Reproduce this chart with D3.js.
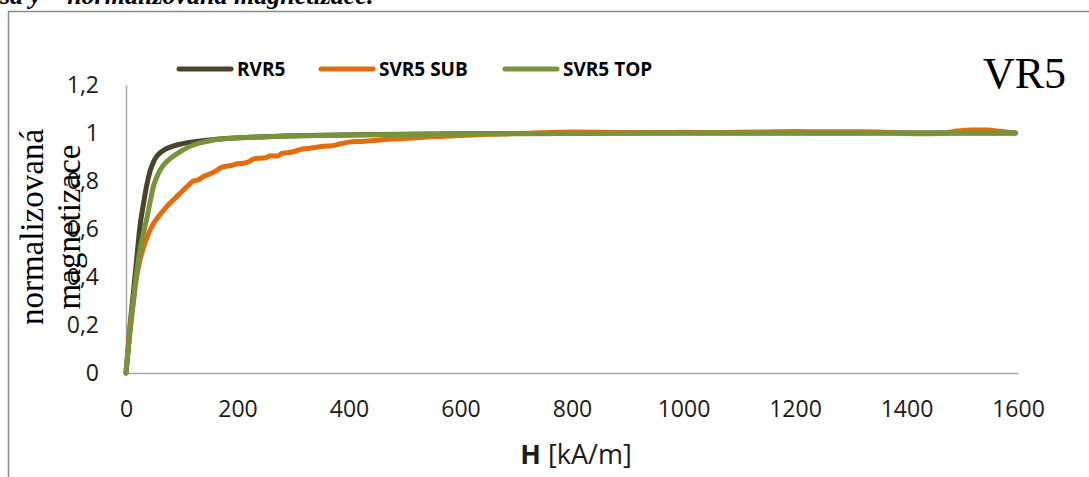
<!DOCTYPE html>
<html>
<head>
<meta charset="utf-8">
<script src="https://cdn.jsdelivr.net/npm/d3@7"></script>
<style>
  body { margin: 0; background: #fff; overflow: hidden; }
  svg { display: block; }
</style>
</head>
<body>
<div id="chart"></div>
<script>
// series: H [kA/m] and normalized magnetization
const rvr5H = [0, 3, 7, 13, 19, 25, 31, 37, 43, 50, 56, 61, 68, 75, 91, 110, 130, 151, 181, 220, 280, 350, 450, 600, 800, 1000, 1200, 1400, 1595];
const rvr5M = [0, 0.08, 0.19, 0.33, 0.47, 0.61, 0.70, 0.78, 0.84, 0.883, 0.905, 0.917, 0.929, 0.937, 0.95, 0.96, 0.966, 0.971, 0.977, 0.982, 0.987, 0.991, 0.994, 0.997, 0.999, 1.0, 1.0, 1.0, 1.0];

const subH = [0, 3, 7, 13, 19, 25, 31, 37, 43, 50, 61, 70, 80, 91, 100, 110, 121, 130, 140, 151, 160, 170, 181, 190, 200, 211, 220, 230, 240, 250, 260, 271, 280, 290, 300, 313, 325, 340, 355, 370, 385, 400, 420, 440, 460, 492, 520, 550, 582, 620, 660, 700, 726, 760, 800, 850, 900, 950, 1000, 1050, 1100, 1145, 1200, 1250, 1300, 1350, 1385, 1420, 1460, 1490, 1517, 1545, 1570, 1595];
const subM = [0, 0.08, 0.18, 0.30, 0.40, 0.47, 0.52, 0.56, 0.595, 0.625, 0.66, 0.685, 0.71, 0.735, 0.755, 0.778, 0.80, 0.805, 0.82, 0.83, 0.84, 0.855, 0.862, 0.865, 0.872, 0.874, 0.88, 0.893, 0.895, 0.897, 0.905, 0.904, 0.915, 0.918, 0.922, 0.932, 0.935, 0.94, 0.945, 0.947, 0.955, 0.962, 0.965, 0.968, 0.972, 0.976, 0.98, 0.985, 0.988, 0.992, 0.995, 0.998, 0.999, 1.002, 1.004, 1.003, 1.002, 1.002, 1.003, 1.002, 1.003, 1.004, 1.006, 1.005, 1.005, 1.004, 1.0, 0.997, 0.998, 1.008, 1.013, 1.012, 1.006, 1.0];

const topH = [0, 3, 7, 13, 19, 25, 31, 37, 43, 49, 55, 61, 68, 75, 83, 91, 105, 121, 135, 151, 181, 220, 280, 350, 450, 600, 800, 1000, 1200, 1400, 1595];
const topM = [0, 0.07, 0.165, 0.29, 0.415, 0.51, 0.58, 0.64, 0.71, 0.776, 0.815, 0.845, 0.868, 0.885, 0.90, 0.913, 0.933, 0.95, 0.96, 0.968, 0.977, 0.982, 0.986, 0.99, 0.993, 0.996, 0.998, 1.0, 1.0, 1.0, 1.0];

const seriesNames = ["RVR5", "SVR5 SUB", "SVR5 TOP"];
const seriesColors = ["#4a452a", "#e46c0a", "#77933c"];
const xTicks = [0, 200, 400, 600, 800, 1000, 1200, 1400, 1600];
const yTicks = [0, 0.2, 0.4, 0.6, 0.8, 1, 1.2];

const width = 1089;
const height = 477;

const series = [
	{ name: seriesNames[0], color: seriesColors[0], values: rvr5H.map((h, i) => ({ h, m: rvr5M[i] })) },
	{ name: seriesNames[1], color: seriesColors[1], values: subH.map((h, i) => ({ h, m: subM[i] })) },
	{ name: seriesNames[2], color: seriesColors[2], values: topH.map((h, i) => ({ h, m: topM[i] })) },
];

const svg = d3.select("#chart")
	.append("svg")
	.attr("width", width)
	.attr("height", height);

// caption of the page, cut off at the top
svg.append("text")
	.attr("x", 0)
	.attr("y", 4)
	.attr("font-family", "Liberation Serif")
	.attr("font-weight", "bold")
	.attr("font-style", "italic")
	.attr("font-size", 26)
	.text("sa y – normalizovaná magnetizace.");

// chart frame
svg.append("path")
	.attr("d", `M8.5,${height} V11.5 H${width}`)
	.attr("fill", "none")
	.attr("stroke", "#8c8c8c")
	.attr("stroke-width", 1.5);

const x = d3.scaleLinear().domain([0, 1600]).range([126, 1018]);
const y = d3.scaleLinear().domain([0, 1.2]).range([373, 85]);

const tickFont = (g) => g.selectAll("text")
	.attr("font-family", "Open Sans")
	.attr("font-size", 23)
	.attr("fill", "#1a1a1a");

svg.append("g")
	.attr("transform", `translate(${x(0)},0)`)
	.call(d3.axisLeft(y).tickValues(yTicks).tickSize(0).tickPadding(27)
		.tickFormat((d) => String(d).replace(".", ",")))
	.call((g) => g.select(".domain").attr("stroke", "#a6a6a6").attr("stroke-width", 1.5))
	.call(tickFont);

svg.append("g")
	.attr("transform", `translate(0,${y(0)})`)
	.call(d3.axisBottom(x).tickValues(xTicks).tickSize(0).tickPadding(28)
		.tickFormat(d3.format("d")))
	.call((g) => g.select(".domain").attr("stroke", "#a6a6a6").attr("stroke-width", 1.5))
	.call(tickFont);

const line = d3.line()
	.x((d) => x(d.h))
	.y((d) => y(d.m))
	.curve(d3.curveMonotoneX);

svg.append("g")
	.selectAll("path")
	.data(series)
	.enter()
	.append("path")
	.attr("d", (s) => line(s.values))
	.attr("fill", "none")
	.attr("stroke", (s) => s.color)
	.attr("stroke-width", 5)
	.attr("stroke-linecap", "round")
	.attr("stroke-linejoin", "round");

// legend
const legendX = [177, 319, 503];
const legend = svg.append("g")
	.selectAll("g")
	.data(series)
	.enter()
	.append("g")
	.attr("transform", (s, i) => `translate(${legendX[i]},69)`);

legend.append("line")
	.attr("x1", 2).attr("x2", 54)
	.attr("stroke", (s) => s.color)
	.attr("stroke-width", 5)
	.attr("stroke-linecap", "round");

legend.append("text")
	.attr("x", 60)
	.attr("y", 7)
	.attr("font-family", "Open Sans")
	.attr("font-weight", "bold")
	.attr("font-size", 19)
	.attr("fill", "#000")
	.text((s) => s.name);

// sample label
svg.append("text")
	.attr("x", 983)
	.attr("y", 88)
	.attr("font-family", "Liberation Serif")
	.attr("font-size", 44)
	.text("VR5");

// y axis title (two lines, rotated)
const yTitle = ["normalizovaná", "magnetizace"];
svg.append("g")
	.selectAll("text")
	.data(yTitle)
	.enter()
	.append("text")
	.attr("transform", (d, i) => `translate(${43 + i * 37},227) rotate(-90)`)
	.attr("text-anchor", "middle")
	.attr("font-family", "Liberation Serif")
	.attr("font-size", 33)
	.attr("fill", "#000")
	.text((d) => d);

// x axis title
const xTitle = svg.append("text")
	.attr("x", 576)
	.attr("y", 464)
	.attr("text-anchor", "middle")
	.attr("font-family", "Open Sans")
	.attr("font-size", 27)
	.attr("fill", "#1a1a1a");
xTitle.append("tspan").attr("font-weight", "bold").text("H");
xTitle.append("tspan").text(" [kA/m]");
</script>
</body>
</html>
